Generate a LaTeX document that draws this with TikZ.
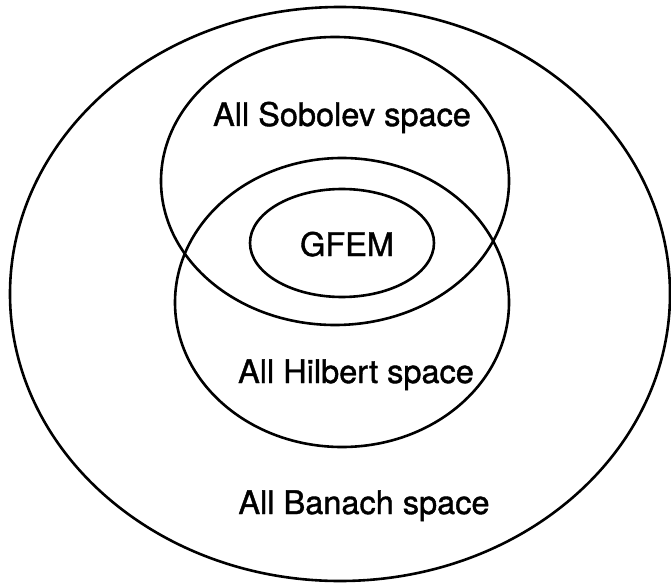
\documentclass[tikz,border=0pt]{standalone}
\usepackage{fontspec}
\setmainfont{TeX Gyre Heros}
\newfontfamily\lblfont[FakeBold=1.2]{TeX Gyre Heros}
\begin{document}
\begin{tikzpicture}[x=1pt,y=-1pt,
  set/.style={draw=black,line width=2.6pt},
  lbl/.style={anchor=base,inner sep=0pt,font=\lblfont\fontsize{32.5}{36}\selectfont}]
\useasboundingbox (0,0) rectangle (671,585);
\fill[white] (0,0) rectangle (671,585);
\draw[set] (340,294) ellipse [x radius=330pt, y radius=287pt];
\draw[set] (335,181) ellipse [x radius=174pt, y radius=144pt];
\draw[set] (342,302.5) ellipse [x radius=167pt, y radius=144.5pt];
\draw[set] (342,243) ellipse [x radius=92pt, y radius=54pt];
\node[lbl] (sob) at (342,126) {All Sobolev space};
\node[lbl] (gfem) at (347,256) {GFEM};
\node[lbl] (hil) at (356,383) {All Hilbert space};
\node[lbl] (ban) at (364,514) {All Banach space};
\end{tikzpicture}
\end{document}
